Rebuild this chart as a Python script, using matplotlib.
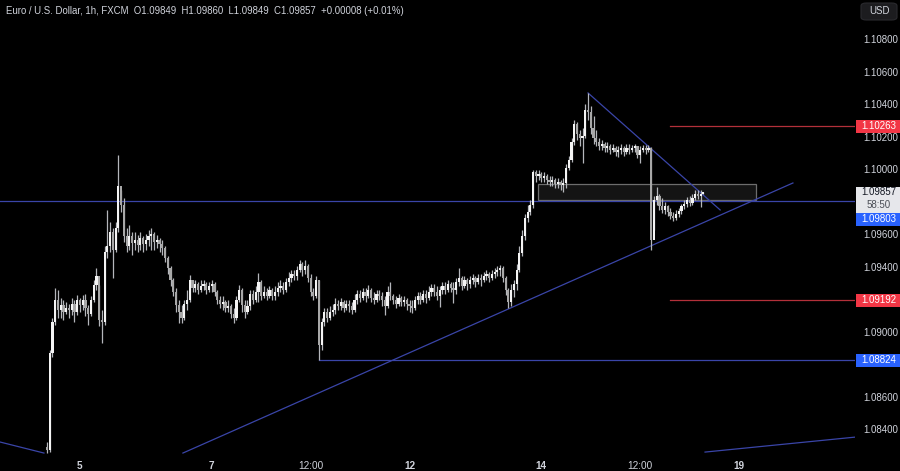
import numpy as np
import matplotlib.pyplot as plt
from matplotlib.patches import Rectangle, FancyBboxPatch

plt.rcParams['font.family'] = ['Liberation Sans', 'DejaVu Sans']

# EURUSD 1h, FXCM. bar 0 = Dec 5 00:00, weekend hours skipped
first_open = 1.08289
closes = [
    # Dec 4 evening / Dec 5
    1.08271, 1.08868, 1.09058, 1.09194, 1.09132, 1.09163, 1.09120, 1.09145, 1.09132, 1.09169, 1.09120, 1.09194, 1.09163,
    1.09194, 1.09145, 1.09108, 1.09194, 1.09286, 1.09342, 1.09071, 1.09058, 1.09489, 1.09526,
    1.09612, 1.09502, 1.09637, 1.09895, 1.09778, 1.09588, 1.09526, 1.09588, 1.09545, 1.09563,
    1.09532, 1.09575, 1.09538, 1.09563, 1.09588, 1.09600, 1.09551, 1.09563, 1.09538, 1.09514,
    1.09452, 1.09391, 1.09317, 1.09243, 1.09163, 1.09120, 1.09083, 1.09169, 1.09194, 1.09317,
    # Dec 7
    1.09268, 1.09292, 1.09255, 1.09280, 1.09292, 1.09255, 1.09280, 1.09292, 1.09243, 1.09194,
    1.09169, 1.09182, 1.09145, 1.09157, 1.09108, 1.09083, 1.09194, 1.09255, 1.09163, 1.09120,
    1.09157, 1.09231, 1.09194, 1.09243, 1.09305, 1.09218, 1.09243, 1.09218, 1.09255, 1.09218,
    1.09243, 1.09268, 1.09280, 1.09255, 1.09305, 1.09329, 1.09354, 1.09342, 1.09378, 1.09415,
    # Dec 8 NFP
    1.09378, 1.09403, 1.09329, 1.09243, 1.09218, 1.09317, 1.08917, 1.09058, 1.09120, 1.09083,
    1.09120, 1.09132, 1.09169, 1.09157, 1.09182, 1.09145, 1.09169, 1.09157, 1.09132, 1.09194,
    # Dec 11
    1.09231, 1.09206, 1.09243, 1.09218, 1.09255, 1.09206, 1.09194, 1.09231, 1.09218, 1.09194,
    1.09157, 1.09243, 1.09218, 1.09194, 1.09169, 1.09206, 1.09182, 1.09194, 1.09169, 1.09157,
    1.09145, 1.09194, 1.09218, 1.09194, 1.09231, 1.09206, 1.09243, 1.09268, 1.09243, 1.09218,
    1.09255, 1.09280, 1.09255, 1.09292, 1.09268, 1.09255, 1.09305, 1.09329, 1.09280, 1.09317,
    # Dec 13 FOMC
    1.09292, 1.09317, 1.09329, 1.09305, 1.09329, 1.09317, 1.09342, 1.09354, 1.09329, 1.09354,
    1.09366, 1.09378, 1.09391, 1.09329, 1.09255, 1.09182, 1.09255, 1.09292, 1.09378, 1.09483,
    1.09588, 1.09698, 1.09735, 1.09778, 1.09982, 1.09957, 1.09969, 1.09945, 1.09957, 1.09932,
    1.09920, 1.09932, 1.09908, 1.09920, 1.09902, 1.09914, 1.10006, 1.10055, 1.10166, 1.10277,
    # Dec 14 ECB
    1.10215, 1.10191, 1.10203, 1.10363, 1.10351, 1.10252, 1.10191, 1.10166, 1.10142, 1.10154,
    1.10129, 1.10142, 1.10117, 1.10129, 1.10105, 1.10117, 1.10129, 1.10105, 1.10129, 1.10117,
    # Dec 15
    1.10129, 1.10142, 1.10086, 1.10117, 1.10129, 1.10117, 1.10129, 1.09563, 1.09809, 1.09834,
    1.09772, 1.09748, 1.09772, 1.09735, 1.09711, 1.09698, 1.09723, 1.09742, 1.09772, 1.09785,
    1.09809, 1.09791, 1.09822, 1.09846, 1.09834, 1.09849, 1.09857,
]
highs = [
    1.08320, 1.08886, 1.09083, 1.09268, 1.09255, 1.09206, 1.09194, 1.09182, 1.09169, 1.09206, 1.09194, 1.09225, 1.09206,
    1.09225, 1.09231, 1.09163, 1.09218, 1.09317, 1.09391, 1.09286, 1.09132, 1.09526, 1.09748,
    1.09674, 1.09637, 1.09674, 1.10086, 1.09871, 1.09822, 1.09637, 1.09655, 1.09612, 1.09612,
    1.09594, 1.09612, 1.09588, 1.09600, 1.09625, 1.09637, 1.09612, 1.09594, 1.09575, 1.09563,
    1.09526, 1.09465, 1.09403, 1.09329, 1.09268, 1.09194, 1.09163, 1.09194, 1.09255, 1.09348,
    1.09317, 1.09317, 1.09305, 1.09317, 1.09317, 1.09305, 1.09305, 1.09317, 1.09305, 1.09255,
    1.09218, 1.09218, 1.09194, 1.09194, 1.09169, 1.09145, 1.09218, 1.09286, 1.09268, 1.09194,
    1.09194, 1.09255, 1.09255, 1.09280, 1.09360, 1.09317, 1.09280, 1.09268, 1.09280, 1.09268,
    1.09280, 1.09305, 1.09317, 1.09305, 1.09329, 1.09366, 1.09378, 1.09378, 1.09403, 1.09440,
    1.09428, 1.09440, 1.09415, 1.09354, 1.09268, 1.09342, 1.09317, 1.09083, 1.09145, 1.09145,
    1.09157, 1.09169, 1.09206, 1.09194, 1.09206, 1.09194, 1.09194, 1.09194, 1.09182, 1.09231,
    1.09255, 1.09255, 1.09268, 1.09268, 1.09286, 1.09268, 1.09243, 1.09255, 1.09255, 1.09243,
    1.09218, 1.09280, 1.09305, 1.09231, 1.09218, 1.09231, 1.09218, 1.09218, 1.09206, 1.09194,
    1.09194, 1.09218, 1.09243, 1.09243, 1.09255, 1.09255, 1.09280, 1.09292, 1.09292, 1.09280,
    1.09280, 1.09305, 1.09305, 1.09317, 1.09305, 1.09305, 1.09329, 1.09391, 1.09342, 1.09342,
    1.09329, 1.09342, 1.09354, 1.09342, 1.09354, 1.09354, 1.09366, 1.09378, 1.09366, 1.09378,
    1.09391, 1.09403, 1.09409, 1.09403, 1.09342, 1.09268, 1.09292, 1.09317, 1.09415, 1.09526,
    1.09625, 1.09723, 1.09778, 1.09809, 1.09994, 1.09994, 1.09994, 1.09982, 1.09982, 1.09969,
    1.09957, 1.09957, 1.09945, 1.09945, 1.09932, 1.09945, 1.10031, 1.10080, 1.10191, 1.10302,
    1.10289, 1.10240, 1.10252, 1.10400, 1.10468, 1.10388, 1.10326, 1.10240, 1.10191, 1.10178,
    1.10166, 1.10166, 1.10154, 1.10154, 1.10142, 1.10142, 1.10154, 1.10142, 1.10154, 1.10154,
    1.10148, 1.10154, 1.10142, 1.10142, 1.10148, 1.10148, 1.10148, 1.10135, 1.09834, 1.09889,
    1.09846, 1.09822, 1.09797, 1.09778, 1.09760, 1.09735, 1.09748, 1.09760, 1.09785, 1.09809,
    1.09828, 1.09834, 1.09846, 1.09871, 1.09871, 1.09871, 1.09860,
]
lows = [
    1.08252, 1.08258, 1.08843, 1.09040, 1.09083, 1.09083, 1.09071, 1.09108, 1.09083, 1.09102, 1.09058, 1.09102, 1.09120,
    1.09132, 1.09095, 1.09040, 1.09095, 1.09182, 1.09255, 1.09034, 1.08929, 1.09040, 1.09452,
    1.09489, 1.09329, 1.09489, 1.09612, 1.09735, 1.09551, 1.09489, 1.09502, 1.09471, 1.09502,
    1.09489, 1.09502, 1.09489, 1.09502, 1.09526, 1.09502, 1.09502, 1.09514, 1.09489, 1.09471,
    1.09428, 1.09354, 1.09280, 1.09218, 1.09120, 1.09052, 1.09052, 1.09071, 1.09132, 1.09182,
    1.09243, 1.09243, 1.09231, 1.09243, 1.09255, 1.09231, 1.09243, 1.09243, 1.09218, 1.09169,
    1.09145, 1.09132, 1.09120, 1.09120, 1.09083, 1.09052, 1.09071, 1.09182, 1.09120, 1.09083,
    1.09108, 1.09132, 1.09169, 1.09182, 1.09182, 1.09194, 1.09206, 1.09194, 1.09206, 1.09194,
    1.09194, 1.09218, 1.09243, 1.09231, 1.09243, 1.09280, 1.09305, 1.09317, 1.09317, 1.09366,
    1.09342, 1.09354, 1.09305, 1.09218, 1.09194, 1.09206, 1.08824, 1.08886, 1.09034, 1.09058,
    1.09071, 1.09095, 1.09108, 1.09132, 1.09132, 1.09120, 1.09132, 1.09120, 1.09108, 1.09120,
    1.09169, 1.09182, 1.09194, 1.09182, 1.09206, 1.09182, 1.09169, 1.09182, 1.09194, 1.09157,
    1.09102, 1.09145, 1.09194, 1.09169, 1.09145, 1.09157, 1.09157, 1.09157, 1.09132, 1.09120,
    1.09114, 1.09132, 1.09169, 1.09169, 1.09182, 1.09175, 1.09194, 1.09218, 1.09218, 1.09194,
    1.09151, 1.09231, 1.09231, 1.09243, 1.09243, 1.09175, 1.09231, 1.09280, 1.09255, 1.09268,
    1.09255, 1.09268, 1.09292, 1.09274, 1.09292, 1.09280, 1.09305, 1.09317, 1.09305, 1.09317,
    1.09329, 1.09342, 1.09342, 1.09305, 1.09225, 1.09145, 1.09157, 1.09212, 1.09255, 1.09366,
    1.09465, 1.09563, 1.09674, 1.09717, 1.09760, 1.09920, 1.09932, 1.09920, 1.09920, 1.09908,
    1.09895, 1.09895, 1.09883, 1.09883, 1.09871, 1.09858, 1.09883, 1.09994, 1.10043, 1.10148,
    1.10178, 1.10142, 1.10037, 1.10191, 1.10302, 1.10215, 1.10154, 1.10142, 1.10117, 1.10117,
    1.10105, 1.10105, 1.10092, 1.10105, 1.10080, 1.10074, 1.10092, 1.10080, 1.10092, 1.10092,
    1.10105, 1.10105, 1.10068, 1.10037, 1.10105, 1.10092, 1.10105, 1.09502, 1.09625, 1.09778,
    1.09748, 1.09729, 1.09723, 1.09711, 1.09692, 1.09680, 1.09686, 1.09705, 1.09723, 1.09754,
    1.09766, 1.09772, 1.09778, 1.09809, 1.09815, 1.09766, 1.09849,
]
bars = np.arange(-12, -12 + len(closes))
opens = [first_open] + closes[:-1]

# axis
tick_pos = [0, 48, 84, 120, 168, 204, 240]
tick_txt = ['5', '7', '12:00', '12', '14', '12:00', '19']
price_ticks = [1.108, 1.106, 1.104, 1.102, 1.100, 1.096, 1.094, 1.090, 1.086, 1.084]

# drawings
support = 1.09803
low_level = 1.08824
red_levels = [1.10263, 1.09192]
rect_x = (166.8, 246.2)
rect_y = (1.09809, 1.09905)
up_trend = [(37.5, 1.08252), (259.6, 1.09914)]
down_trend = [(185, 1.10468), (233.1, 1.09748)]
old_line_l = [(-29.1, 1.08320), (-13.1, 1.08252)]
old_line_r = [(227.6, 1.08258), (282.2, 1.08350)]
last_price = 1.09857

BG = '#000000'
TXT = '#d1d4dc'
LINE_BLUE = '#3a45a8'
RED_LINE = '#b3303a'
RED_TAG = '#f23645'
BLUE_TAG = '#2962ff'

fig = plt.figure(figsize=(9, 4.71), dpi=100, facecolor=BG)
ax = fig.add_axes([0, 16 / 471, 855 / 900, 455 / 471])
ax.set_facecolor(BG)
for s in ax.spines.values():
    s.set_visible(False)
ax.set_xlim(-29.1, 282.2)
ax.set_ylim(1.08240, 1.11040)

# candles
o = np.array(opens)
c = np.array(closes)
up = c >= o
ax.vlines(bars, lows, highs, color='#b4b6bb', lw=0.9, zorder=3)
body_lo = np.minimum(o, c)
body_h = np.maximum(np.abs(c - o), 0.00003)
ax.bar(bars[up], body_h[up], bottom=body_lo[up], width=0.8, color='#f4f4f4', lw=0, zorder=4)
ax.bar(bars[~up], body_h[~up], bottom=body_lo[~up], width=0.8, color='#a8a8a8', lw=0, zorder=4)

# levels and trendlines
ax.axhline(support, color=LINE_BLUE, lw=0.9, zorder=2)
ax.plot([87, 282.2], [low_level, low_level], color=LINE_BLUE, lw=0.9, zorder=2)
for lv in red_levels:
    ax.plot([214.9, 282.2], [lv, lv], color=RED_LINE, lw=0.9, zorder=2)
for seg in (up_trend, down_trend, old_line_l, old_line_r):
    ax.plot([seg[0][0], seg[1][0]], [seg[0][1], seg[1][1]], color=LINE_BLUE, lw=0.9, zorder=2)
ax.add_patch(Rectangle((rect_x[0], rect_y[0]), rect_x[1] - rect_x[0], rect_y[1] - rect_y[0],
                       facecolor='#141414', edgecolor='#6d6d6d', lw=0.9, zorder=1))

# price axis
ax.yaxis.tick_right()
ax.set_yticks(price_ticks)
ax.set_yticklabels([f'{p:.5f}' for p in price_ticks])
ax.tick_params(axis='y', length=0, pad=6, labelsize=7.0, colors=TXT)
ax.set_xticks(tick_pos)
ax.set_xticklabels(tick_txt)
ax.tick_params(axis='x', length=0, pad=4, labelsize=7.2, colors=TXT)
for lab, t in zip(ax.get_xticklabels(), tick_txt):
    if ':' not in t:
        lab.set_fontweight('bold')

ytr = ax.get_yaxis_transform()
px = 0.00006154  # price per pixel


def tag(y, text, face, color, h=13):
    ax.add_patch(Rectangle((1.0015, y - h / 2 * px), 0.0515, h * px, transform=ytr,
                           facecolor=face, edgecolor='none', clip_on=False, zorder=6))
    ax.text(1.0275, y, text, transform=ytr, ha='center', va='center', fontsize=7.0,
            color=color, clip_on=False, zorder=7)


tag(1.10263, '1.10263', RED_TAG, 'white')
tag(1.09192, '1.09192', RED_TAG, 'white')
tag(1.08824, '1.08824', BLUE_TAG, 'white')
# current price with countdown, support tag pushed below it
ax.add_patch(Rectangle((1.0015, last_price - 21 * px), 0.0515, 26 * px, transform=ytr,
                       facecolor='#e6e7eb', edgecolor='none', clip_on=False, zorder=6))
ax.text(1.0275, last_price, f'{last_price:.5f}', transform=ytr, ha='center', va='center',
        fontsize=7.0, color='#131722', clip_on=False, zorder=7)
ax.text(1.0275, last_price - 13 * px, '58:50', transform=ytr, ha='center', va='center',
        fontsize=7.0, color='#4a4d55', clip_on=False, zorder=7)
tag(last_price - 27 * px, f'{support:.5f}', BLUE_TAG, 'white')

# header
fig.text(6 / 900, 1 - 11 / 471,
         'Euro / U.S. Dollar, 1h, FXCM  O1.09849  H1.09860  L1.09849  C1.09857  +0.00008 (+0.01%)',
         color=TXT, fontsize=6.9, va='center', ha='left')
fig.patches.append(FancyBboxPatch((861 / 900, 1 - 20 / 471), 36 / 900, 17 / 471,
                                  boxstyle='round,pad=0,rounding_size=0.006',
                                  transform=fig.transFigure, facecolor='#1c1c1f',
                                  edgecolor='#2a2a2e', lw=0.8))
fig.text(879 / 900, 1 - 11.5 / 471, 'USD', color=TXT, fontsize=7.0, ha='center', va='center')

fig.savefig('out.png', dpi=100, facecolor=BG)
